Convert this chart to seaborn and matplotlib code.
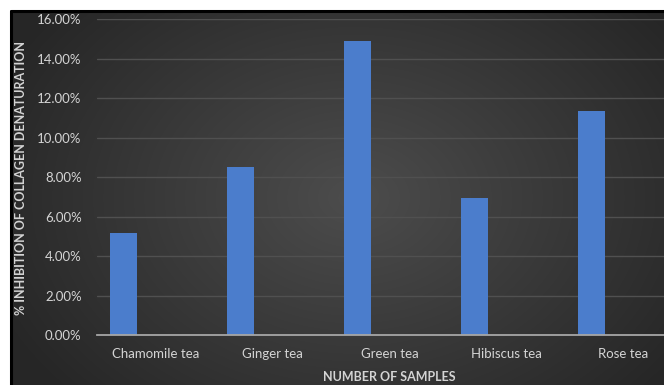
import numpy as np
import pandas as pd
import matplotlib
matplotlib.use("Agg")
import matplotlib.pyplot as plt
import seaborn as sns
from matplotlib.ticker import FuncFormatter

# Data
samples = ["Chamomile tea", "Ginger tea", "Green tea", "Hibiscus tea", "Rose tea"]
inhibition = [0.0515, 0.0850, 0.1492, 0.0693, 0.1135]
series_names = ["Series1", "Series2", "Series3"]
y_ticks = [0.00, 0.02, 0.04, 0.06, 0.08, 0.10, 0.12, 0.14, 0.16]

sns.set_theme(style="dark")
plt.rcParams["font.family"] = ["Lato", "DejaVu Sans"]

W, H = 664, 385
fig = plt.figure(figsize=(W / 100, H / 100), dpi=100)
fig.patch.set_facecolor("white")

# Dark panel with a soft radial gradient
px0, py0 = 11, 11
bg = fig.add_axes([px0 / W, 0, 1 - px0 / W, (H - py0) / H])
gx = np.linspace(-1, 1, 400)
gy = np.linspace(-1, 1, 240)
X, Y = np.meshgrid(gx, gy)
r = np.sqrt(((X - 0.05) / 1.0) ** 2 + ((Y - 0.0) / 1.3) ** 2)
val = 0.30 - 0.15 * np.clip(r, 0, 1.2) / 1.2
img = np.dstack([val, val, val])
bg.imshow(img, aspect="auto", extent=[0, 1, 0, 1], interpolation="bilinear")
bg.set_xlim(0, 1)
bg.set_ylim(0, 1)
bg.axis("off")
# black frame on the visible top and left edges
fig.add_artist(plt.Line2D([px0 / W, 1], [1 - py0 / H, 1 - py0 / H],
                          color="black", lw=2.2, transform=fig.transFigure))
fig.add_artist(plt.Line2D([px0 / W, px0 / W], [0, 1 - py0 / H],
                          color="black", lw=2.2, transform=fig.transFigure))

rows = []
for s, v in zip(samples, inhibition):
    rows.append({"Sample": s, "Series": series_names[0], "Value": v})
    for extra in series_names[1:]:
        rows.append({"Sample": s, "Series": extra, "Value": np.nan})
df = pd.DataFrame(rows)

ax_left, ax_right = 97, 682
ax_bottom, ax_top = 335, 19.3
ax = fig.add_axes([ax_left / W, (H - ax_bottom) / H,
                   (ax_right - ax_left) / W, (ax_bottom - ax_top) / H])
ax.set_facecolor("none")
ax.patch.set_alpha(0)

sns.barplot(data=df, x="Sample", y="Value", hue="Series",
            hue_order=series_names, order=samples,
            palette=["#4b7dcc", "#c0504d", "#9bbb59"],
            width=0.82, gap=0.16, legend=False, errorbar=None,
            saturation=1, edgecolor="none", linewidth=0, ax=ax)

ax.set_ylim(0, 0.16)
ax.set_xlim(-0.5, len(samples) - 0.5)
ax.set_yticks(y_ticks)
ax.yaxis.set_major_formatter(FuncFormatter(lambda v, p: f"{v * 100:.2f}%"))
ax.grid(axis="y", color="#505050", lw=1.0)
ax.grid(axis="x", visible=False)
ax.set_axisbelow(True)
for sp in ["top", "right", "left"]:
    ax.spines[sp].set_visible(False)
ax.spines["bottom"].set_color("#a6a6a6")
ax.spines["bottom"].set_linewidth(1.3)

text_col = "#d4d4d4"
ax.tick_params(axis="y", colors=text_col, labelsize=9.5, length=0, pad=11)
ax.tick_params(axis="x", colors=text_col, labelsize=9.5, length=0, pad=9)
ax.set_xlabel("NUMBER OF SAMPLES", color=text_col, fontsize=9,
              fontweight="bold", labelpad=8)
ax.set_ylabel("% INHIBITION OF COLLAGEN DENATURATION", color=text_col,
              fontsize=9, fontweight="bold", labelpad=8)
ax.yaxis.set_label_coords(-(ax_left - 27) / (ax_right - ax_left),
                          (ax_bottom - 178) / (ax_bottom - ax_top))

fig.savefig("out.png", dpi=100, facecolor=fig.get_facecolor())
